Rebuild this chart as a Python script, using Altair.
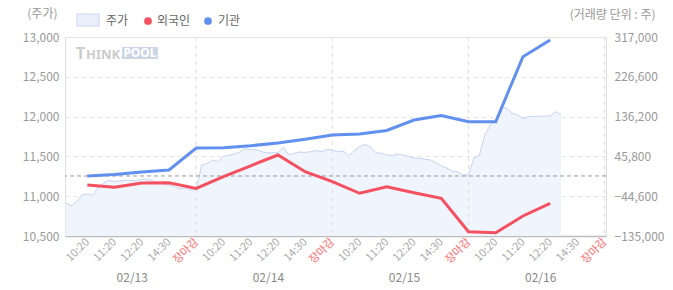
import altair as alt
import pandas as pd

FONT = "Noto Sans CJK KR"

tick_names = ["10:20", "11:20", "12:20", "14:30", "장마감"]
dates = ["02/13", "02/14", "02/15", "02/16"]

# Share price (minute-ish samples, each day)
price_d1 = [10920, 10880, 10925, 11015, 11030, 11010, 11115, 11165, 11200, 11185,
            11192, 11200, 11198, 11195, 11212, 11215, 11195, 11175, 11155, 11139,
            11121, 11095, 11105, 11080, 11085]
price_d2 = [11390, 11410, 11450, 11435, 11500, 11515, 11530, 11555, 11600, 11582,
            11588, 11560, 11545, 11545, 11550, 11615, 11520, 11539, 11555, 11550,
            11560, 11575, 11560, 11585, 11580]
price_d3 = [11555, 11570, 11505, 11570, 11625, 11650, 11620, 11545, 11540, 11520,
            11510, 11530, 11515, 11500, 11480, 11475, 11465, 11455, 11420, 11380,
            11355, 11315, 11308, 11266, 11270]
price_d4 = [11480, 11515, 11770, 11895, 11960, 12130, 12104, 12045, 12020, 11975,
            12000, 11999, 12005, 12008, 12008, 12062, 12025]
prev_close = 11254

# Cumulative net buying (shares), one value per tick
foreign = [-19200, -24400, -14600, -14000, -27100, 0, 24500, 49000, 11000, -11700,
           -38000, -23000, -36600, -49400, -125200, -127500, -89600, -60700]
institution = [1300, 4700, 10400, 14900, 64900, 65500, 70100, 76200, 84600, 94400,
               96700, 104600, 128500, 138700, 124600, 124600, 272300, 310200]

price_ticks = [10500, 11000, 11500, 12000, 12500, 13000]
volume_ticks = [-135000, -44600, 45800, 136200, 226600, 317000]

RED = "#f4505f"
BLUE = "#6190ee"

rows = []
for d, vals in enumerate([price_d1, price_d2, price_d3, price_d4]):
    for i, v in enumerate(vals):
        rows.append({"slot": 5 * d - 0.8 + 0.2 * i, "price": v})
price_df = pd.DataFrame(rows)

line_rows = []
for i, v in enumerate(foreign):
    line_rows.append({"slot": i, "value": v, "series": "외국인"})
for i, v in enumerate(institution):
    line_rows.append({"slot": i, "value": v, "series": "기관"})
line_df = pd.DataFrame(line_rows)

close_df = pd.DataFrame({"slot": [5 * d + 4 for d in range(4)]})
date_df = pd.DataFrame({"slot": [5 * d + 1.65 for d in range(4)], "date": dates})
ref_df = pd.DataFrame({"price": [prev_close]})

label_expr = "[" + ",".join("'%s'" % t for t in tick_names) + "][datum.value % 5]"

xscale = alt.Scale(domain=[-0.82, 19.05], nice=False, zero=False)
xaxis = alt.Axis(
    values=list(range(20)), labelExpr=label_expr, labelAngle=-45,
    labelAlign="right", labelBaseline="middle", labelPadding=4,
    labelFontSize=11, labelFont=FONT, labelOverlap=False, tickCount=20,
    labelColor={"condition": {"test": "datum.value % 5 == 4", "value": "#ff6b6b"},
                "value": "#aaaaaa"},
    ticks=False, grid=False, domainColor="#bbbbbb", domainWidth=1.5, title=None,
)


def X():
    return alt.X("slot:Q", scale=xscale, axis=xaxis)


left_axis = alt.Axis(
    values=price_ticks, format=",.0f", grid=True, gridColor="#e4e4e4", tickCount=6,
    gridDash={"condition": {"test": "datum.value === 13000", "value": [1, 0]},
              "value": [4, 4]},
    domain=False, ticks=False, labelPadding=6, labelColor="#999999",
    labelFontSize=12, labelFont=FONT, labelOverlap=False,
    title="(주가)", titleAngle=0, titleX=-8, titleY=-24, titleAlign="right",
    titleBaseline="middle", titleColor="#999999", titleFontWeight="normal",
    titleFontSize=12, titleFont=FONT,
)
right_axis = alt.Axis(
    values=volume_ticks, format=",.0f", orient="right", grid=False, tickCount=6,
    domain=False, ticks=False, labelPadding=8, labelColor="#999999",
    labelFontSize=12, labelFont=FONT, labelOverlap=False,
    title="(거래량 단위 : 주)", titleAngle=0, titleX=49, titleY=-23,
    titleAlign="right", titleBaseline="middle", titleColor="#999999",
    titleFontWeight="normal", titleFontSize=12, titleFont=FONT,
)
pscale = alt.Scale(domain=[10500, 13000], nice=False, zero=False)
vscale = alt.Scale(domain=[-135000, 317000], nice=False, zero=False)


def PY():
    return alt.Y("price:Q", scale=pscale, axis=left_axis)


area = alt.Chart(price_df).mark_area(color="#eff4fd").encode(
    x=X(), y=PY(), y2=alt.datum(10500)
)
pline = alt.Chart(price_df).mark_line(color="#c6d3f1", strokeWidth=1).encode(
    x=X(), y=PY()
)
vrules = alt.Chart(close_df).mark_rule(color="#dddddd", strokeDash=[4, 4]).encode(
    x=X()
)
ref = alt.Chart(ref_df).mark_rule(color="#9a9a9a", strokeDash=[4, 3]).encode(
    y=PY()
)
date_text = alt.Chart(date_df).mark_text(
    font=FONT, fontSize=12, color="#888888", baseline="middle"
).encode(x=X(), y=alt.value(241), text="date:N")

one = alt.Data(values=[{}])
leg_rect = alt.Chart(one).mark_rect(fill="#e9f0fb", stroke="#c9d6f0", strokeWidth=1).encode(
    x=alt.value(12), x2=alt.value(34), y=alt.value(-23), y2=alt.value(-11)
)
leg_t1 = alt.Chart(one).mark_text(text="주가", font=FONT, fontSize=12, color="#666666",
                                  align="left", baseline="middle").encode(
    x=alt.value(41), y=alt.value(-16))
leg_d2 = alt.Chart(one).mark_circle(color=RED, opacity=1, size=60).encode(
    x=alt.value(83), y=alt.value(-16))
leg_t2 = alt.Chart(one).mark_text(text="외국인", font=FONT, fontSize=12, color="#666666",
                                  align="left", baseline="middle").encode(
    x=alt.value(92), y=alt.value(-16))
leg_d3 = alt.Chart(one).mark_circle(color=BLUE, opacity=1, size=60).encode(
    x=alt.value(143), y=alt.value(-16))
leg_t3 = alt.Chart(one).mark_text(text="기관", font=FONT, fontSize=12, color="#666666",
                                  align="left", baseline="middle").encode(
    x=alt.value(153), y=alt.value(-16))

logo_T = alt.Chart(one).mark_text(text="T", font="Noto Sans", fontSize=16,
                                  fontWeight="bold", color="#cccccc", align="left",
                                  baseline="alphabetic").encode(x=alt.value(11), y=alt.value(22))
logo_t = alt.Chart(one).mark_text(text="HINK", font="Noto Sans", fontSize=13,
                                  fontWeight="bold", color="#cccccc", align="left",
                                  baseline="alphabetic").encode(x=alt.value(21), y=alt.value(22))
logo_box = alt.Chart(one).mark_rect(fill="#ccd5e5").encode(
    x=alt.value(57), x2=alt.value(93), y=alt.value(10), y2=alt.value(22))
logo_p = alt.Chart(one).mark_text(text="POOL", font="Noto Sans", fontSize=12,
                                  fontWeight="bold", color="#ffffff", align="center",
                                  baseline="middle").encode(x=alt.value(75), y=alt.value(16))

price_layer = alt.layer(area, pline, vrules, ref, date_text, leg_rect, leg_t1, leg_d2,
                        leg_t2, leg_d3, leg_t3, logo_T, logo_t, logo_box, logo_p)

lines = alt.Chart(line_df).mark_line(strokeWidth=3).encode(
    x=X(),
    y=alt.Y("value:Q", scale=vscale, axis=right_axis),
    color=alt.Color("series:N", scale=alt.Scale(domain=["외국인", "기관"], range=[RED, BLUE]),
                    legend=None),
)
lines_layer = alt.layer(lines)

chart = alt.layer(price_layer, lines_layer).resolve_scale(y="independent").properties(
    width=541, height=199,
    padding={"left": 65, "top": 37, "right": 67, "bottom": 54},
    autosize=alt.AutoSizeParams(type="none"),
    background="white",
).configure_view(stroke=None).configure(font=FONT)

chart.save("out.html", embed_options={"renderer": "svg", "actions": False})
